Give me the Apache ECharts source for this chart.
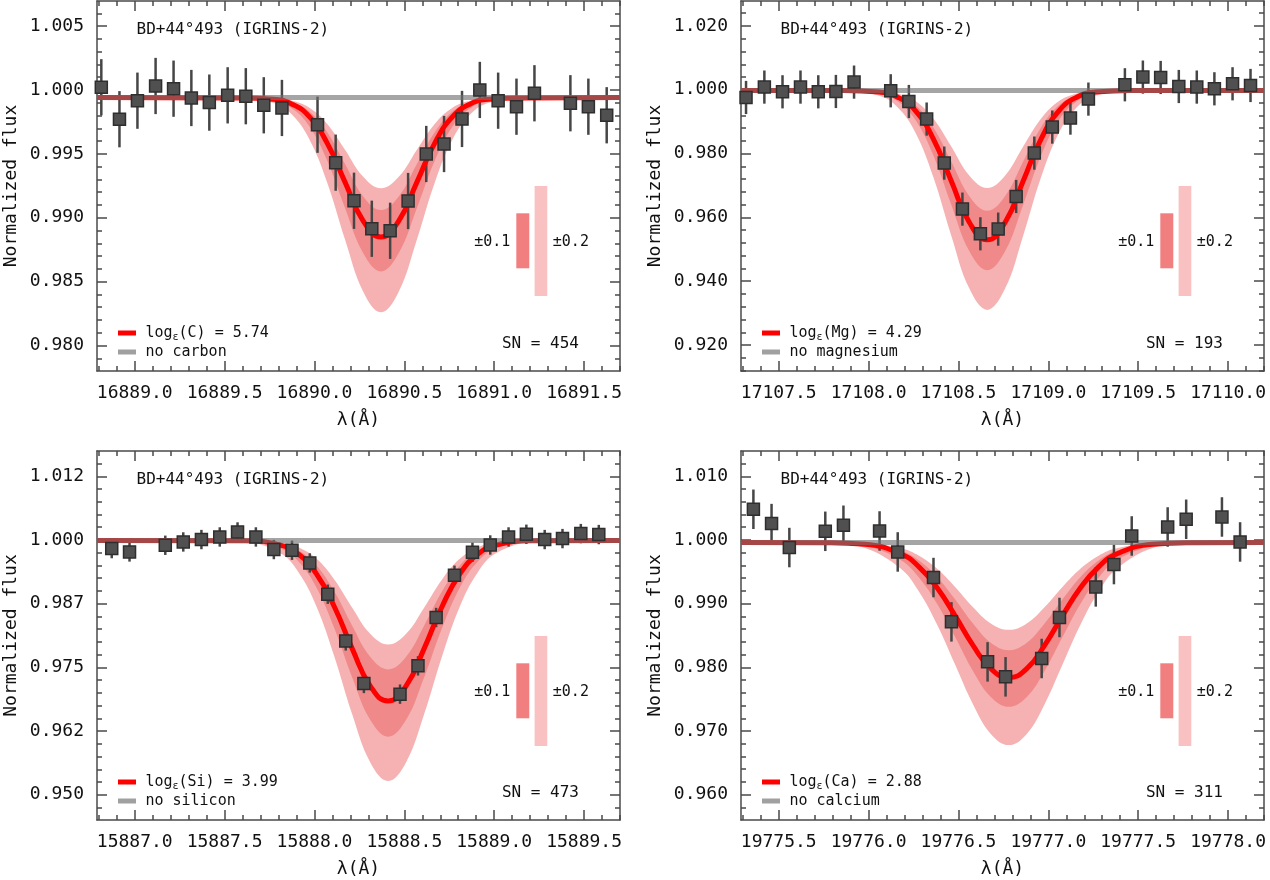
<!DOCTYPE html>
<html>
<head>
<meta charset="utf-8">
<title>BD+44°493 (IGRINS-2) line fits</title>
<script src="https://cdn.jsdelivr.net/npm/echarts@6/dist/echarts.min.js"></script>
<style>
  html, body { margin: 0; padding: 0; background: #fff; }
  #chart { width: 1270px; height: 880px; }
</style>
</head>
<body>
<div id="chart"></div>
<script>
// ---- observed spectrum (wavelength in A, normalized flux, 1-sigma error) ----
const cWave = [16888.814, 16888.915, 16889.015, 16889.116, 16889.216, 16889.315, 16889.415, 16889.517, 16889.618, 16889.718, 16889.819, 16890.017, 16890.118, 16890.220, 16890.319, 16890.421, 16890.521, 16890.622, 16890.721, 16890.821, 16890.920, 16891.022, 16891.124, 16891.224, 16891.424, 16891.524, 16891.626];
const cFlux = [1.00021, 0.99771, 0.99916, 1.00031, 1.00010, 0.99937, 0.99901, 0.99958, 0.99951, 0.99880, 0.99859, 0.99728, 0.99431, 0.99133, 0.98914, 0.98898, 0.99131, 0.99499, 0.99577, 0.99773, 1.00000, 0.99916, 0.99869, 0.99974, 0.99896, 0.99869, 0.99802];
const cErr = 0.0022;

const mgWave = [17107.318, 17107.420, 17107.521, 17107.621, 17107.720, 17107.818, 17107.919, 17108.123, 17108.224, 17108.323, 17108.421, 17108.522, 17108.622, 17108.721, 17108.821, 17108.922, 17109.022, 17109.123, 17109.223, 17109.426, 17109.526, 17109.625, 17109.726, 17109.826, 17109.924, 17110.025, 17110.125];
const mgFlux = [0.99759, 1.00085, 0.99937, 1.00085, 0.99937, 0.99947, 1.00241, 0.99969, 0.99633, 0.99082, 0.97702, 0.96260, 0.95486, 0.95633, 0.96655, 0.98016, 0.98831, 0.99113, 0.99708, 1.00157, 1.00398, 1.00386, 1.00103, 1.00085, 1.00031, 1.00188, 1.00135];
const mgErr = 0.0052;

const siWave = [15886.872, 15886.971, 15887.170, 15887.270, 15887.371, 15887.473, 15887.572, 15887.674, 15887.774, 15887.875, 15887.974, 15888.074, 15888.174, 15888.275, 15888.476, 15888.576, 15888.677, 15888.779, 15888.879, 15888.978, 15889.080, 15889.179, 15889.281, 15889.380, 15889.482, 15889.582];
const siFlux = [0.99831, 0.99765, 0.99896, 0.99961, 1.00008, 1.00059, 1.00157, 1.00059, 0.99812, 0.99798, 0.99549, 0.98935, 0.98019, 0.97184, 0.96974, 0.97529, 0.98478, 0.99308, 0.99759, 0.99902, 1.00059, 1.00112, 1.00008, 1.00027, 1.00125, 1.00106];
const siErr = 0.0019;

const caWave = [19775.359, 19775.460, 19775.559, 19775.759, 19775.860, 19776.061, 19776.162, 19776.361, 19776.461, 19776.662, 19776.762, 19776.963, 19777.062, 19777.264, 19777.365, 19777.464, 19777.664, 19777.767, 19777.966, 19778.067];
const caFlux = [1.00482, 1.00257, 0.99881, 1.00136, 1.00231, 1.00141, 0.99812, 0.99410, 0.98714, 0.98086, 0.97851, 0.98139, 0.98783, 0.99263, 0.99614, 1.00063, 1.00204, 1.00325, 1.00361, 0.99969];
const caErr = 0.0031;

// ---- synthetic spectra (best fit, -0.2/-0.1/+0.1/+0.2 dex) ----
const cGrid = [16888.79, 16889.57, 16889.77, 16889.87, 16889.97, 16890.07, 16890.17, 16890.27, 16890.37, 16890.47, 16890.57, 16890.67, 16890.77, 16890.87, 16890.97, 16891.17, 16891.70];
const cMinus2 = [0.9994, 0.9994, 0.99935, 0.99918, 0.99863, 0.99736, 0.99532, 0.99322, 0.99230, 0.99322, 0.99532, 0.99736, 0.99863, 0.99918, 0.99935, 0.9994, 0.9994];
const cMinus1 = [0.9994, 0.9994, 0.99932, 0.99907, 0.99833, 0.99671, 0.99420, 0.99168, 0.99060, 0.99168, 0.99420, 0.99671, 0.99833, 0.99907, 0.99932, 0.9994, 0.9994];
const cModel = [0.9994, 0.99937, 0.99928, 0.99892, 0.99793, 0.99586, 0.99279, 0.98978, 0.98850, 0.98978, 0.99279, 0.99586, 0.99793, 0.99892, 0.99928, 0.99937, 0.9994];
const cPlus1 = [0.9994, 0.99939, 0.99917, 0.99860, 0.99718, 0.99450, 0.99076, 0.98726, 0.98580, 0.98726, 0.99076, 0.99450, 0.99718, 0.99860, 0.99917, 0.99939, 0.9994];
const cPlus2 = [0.9994, 0.99938, 0.99899, 0.99813, 0.99618, 0.99277, 0.98829, 0.98425, 0.98260, 0.98425, 0.98829, 0.99277, 0.99618, 0.99813, 0.99899, 0.99938, 0.9994];
const cCont = 0.9994;

const mgGrid = [17107.29, 17107.86, 17108.06, 17108.16, 17108.26, 17108.36, 17108.46, 17108.56, 17108.66, 17108.76, 17108.86, 17108.96, 17109.06, 17109.16, 17109.26, 17109.46, 17110.20];
const mgMinus2 = [0.9998, 0.9998, 0.99959, 0.99884, 0.99646, 0.99100, 0.98221, 0.97316, 0.96920, 0.97316, 0.98221, 0.99100, 0.99646, 0.99884, 0.99959, 0.9998, 0.9998];
const mgMinus1 = [0.9998, 0.99979, 0.99947, 0.99839, 0.99520, 0.98826, 0.97752, 0.96674, 0.96210, 0.96674, 0.97752, 0.98826, 0.99520, 0.99839, 0.99947, 0.99979, 0.9998];
const mgModel = [0.9998, 0.99979, 0.99928, 0.99775, 0.99347, 0.98460, 0.97142, 0.95850, 0.95300, 0.95850, 0.97142, 0.98460, 0.99347, 0.99775, 0.99928, 0.99979, 0.9998];
const mgPlus1 = [0.9998, 0.99976, 0.99885, 0.99648, 0.99061, 0.97947, 0.96396, 0.94945, 0.94340, 0.94945, 0.96396, 0.97947, 0.99061, 0.99648, 0.99885, 0.99976, 0.9998];
const mgPlus2 = [0.9998, 0.99971, 0.99813, 0.99460, 0.98662, 0.97264, 0.95429, 0.93776, 0.93100, 0.93776, 0.95429, 0.97264, 0.98662, 0.99460, 0.99813, 0.99971, 0.9998];
const mgCont = 0.9998;

const siGrid = [15886.79, 15887.61, 15887.81, 15887.91, 15888.01, 15888.11, 15888.21, 15888.31, 15888.41, 15888.51, 15888.61, 15888.71, 15888.81, 15888.91, 15889.01, 15889.21, 15889.70];
const siMinus2 = [0.9999, 0.99988, 0.99950, 0.99857, 0.99634, 0.99226, 0.98672, 0.98161, 0.97950, 0.98161, 0.98672, 0.99226, 0.99634, 0.99857, 0.99950, 0.99988, 0.9999];
const siMinus1 = [0.9999, 0.99987, 0.99929, 0.99799, 0.99506, 0.98991, 0.98316, 0.97708, 0.97460, 0.97708, 0.98316, 0.98991, 0.99506, 0.99799, 0.99929, 0.99987, 0.9999];
const siModel = [0.9999, 0.99984, 0.99900, 0.99723, 0.99341, 0.98695, 0.97868, 0.97136, 0.96840, 0.97136, 0.97868, 0.98695, 0.99341, 0.99723, 0.99900, 0.99984, 0.9999];
const siPlus1 = [0.9999, 0.99978, 0.99838, 0.99582, 0.99074, 0.98274, 0.97302, 0.96471, 0.96140, 0.96471, 0.97302, 0.98274, 0.99074, 0.99582, 0.99838, 0.99978, 0.9999];
const siPlus2 = [0.9999, 0.99964, 0.99737, 0.99372, 0.98705, 0.97719, 0.96580, 0.95639, 0.95270, 0.95639, 0.96580, 0.97719, 0.98705, 0.99372, 0.99737, 0.99964, 0.9999];
const siCont = 0.9999;

const caGrid = [19775.29, 19775.78, 19775.98, 19776.18, 19776.28, 19776.38, 19776.48, 19776.58, 19776.68, 19776.78, 19776.88, 19776.98, 19777.08, 19777.18, 19777.28, 19777.38, 19777.58, 19777.78, 19778.20];
const caMinus2 = [0.9996, 0.99959, 0.99949, 0.99870, 0.99754, 0.99552, 0.99267, 0.98948, 0.98690, 0.98590, 0.98690, 0.98948, 0.99267, 0.99552, 0.99754, 0.99870, 0.99949, 0.99959, 0.9996];
const caMinus1 = [0.9996, 0.99959, 0.99943, 0.99832, 0.99679, 0.99424, 0.99074, 0.98692, 0.98387, 0.98270, 0.98387, 0.98692, 0.99074, 0.99424, 0.99679, 0.99832, 0.99943, 0.99959, 0.9996];
const caModel = [0.9996, 0.99958, 0.99934, 0.99780, 0.99578, 0.99253, 0.98816, 0.98349, 0.97981, 0.97840, 0.97981, 0.98349, 0.98816, 0.99253, 0.99578, 0.99780, 0.99934, 0.99958, 0.9996];
const caPlus1 = [0.9996, 0.99955, 0.99911, 0.99683, 0.99412, 0.99003, 0.98483, 0.97947, 0.97535, 0.97380, 0.97535, 0.97947, 0.98483, 0.99003, 0.99412, 0.99683, 0.99911, 0.99955, 0.9996];
const caPlus2 = [0.9996, 0.99949, 0.99875, 0.99547, 0.99189, 0.98676, 0.98051, 0.97425, 0.96955, 0.96780, 0.96955, 0.97425, 0.98051, 0.98676, 0.99189, 0.99547, 0.99875, 0.99949, 0.9996];
const caCont = 0.9996;

// ---- axis ranges and tick labels ----
const cXRange = [16888.79, 16891.70];
const cYRange = [0.97801, 1.00696];
const cXTicks = [16889.0, 16889.5, 16890.0, 16890.5, 16891.0, 16891.5];
const cYTicks = [0.980, 0.985, 0.990, 0.995, 1.000, 1.005];

const mgXRange = [17107.29, 17110.20];
const mgYRange = [0.91186, 1.02783];
const mgXTicks = [17107.5, 17108.0, 17108.5, 17109.0, 17109.5, 17110.0];
const mgYTicks = [0.920, 0.940, 0.960, 0.980, 1.000, 1.020];

const siXRange = [15886.79, 15889.70];
const siYRange = [0.94504, 1.01746];
const siXTicks = [15887.0, 15887.5, 15888.0, 15888.5, 15889.0, 15889.5];
const siYTicks = [0.950, 0.9625, 0.975, 0.9875, 1.000, 1.0125];

const caXRange = [19775.29, 19778.20];
const caYRange = [0.95603, 1.01397];
const caXTicks = [19775.5, 19776.0, 19776.5, 19777.0, 19777.5, 19778.0];
const caYTicks = [0.960, 0.970, 0.980, 0.990, 1.000, 1.010];

// ---- labels ----
const elements = ["C", "Mg", "Si", "Ca"];
const abundances = ["5.74", "4.29", "3.99", "2.88"];
const noLabels = ["no carbon", "no magnesium", "no silicon", "no calcium"];
const snValues = [454, 193, 473, 311];
const starLabel = "BD+44°493 (IGRINS-2)";

const FONT = "DejaVu Sans Mono";
const AXIS_COLOR = "#4a4a4a";
const OUTER_BAND = "#f6b2b2";
const INNER_BAND = "#f08a8a";

const panels = [
  { wave: cWave, flux: cFlux, err: cErr, grid: cGrid, m2: cMinus2, m1: cMinus1, model: cModel, p1: cPlus1, p2: cPlus2, cont: cCont, xr: cXRange, yr: cYRange, xt: cXTicks, yt: cYTicks },
  { wave: mgWave, flux: mgFlux, err: mgErr, grid: mgGrid, m2: mgMinus2, m1: mgMinus1, model: mgModel, p1: mgPlus1, p2: mgPlus2, cont: mgCont, xr: mgXRange, yr: mgYRange, xt: mgXTicks, yt: mgYTicks },
  { wave: siWave, flux: siFlux, err: siErr, grid: siGrid, m2: siMinus2, m1: siMinus1, model: siModel, p1: siPlus1, p2: siPlus2, cont: siCont, xr: siXRange, yr: siYRange, xt: siXTicks, yt: siYTicks },
  { wave: caWave, flux: caFlux, err: caErr, grid: caGrid, m2: caMinus2, m1: caMinus1, model: caModel, p1: caPlus1, p2: caPlus2, cont: caCont, xr: caXRange, yr: caYRange, xt: caXTicks, yt: caYTicks },
];

const boxes = [
  { left: 97, top: 1, width: 523, height: 370 },
  { left: 741, top: 1, width: 523, height: 370 },
  { left: 97, top: 451, width: 523, height: 369 },
  { left: 741, top: 451, width: 523, height: 369 },
];

function minorValues(major, range) {
  const step = (major[1] - major[0]) / 5;
  const out = [];
  const k0 = Math.ceil((range[0] - major[0]) / step - 1e-9);
  for (let k = k0; major[0] + k * step <= range[1] + 1e-12; k++) {
    out.push(+(major[0] + k * step).toFixed(6));
  }
  return out;
}

function yLabel(v) {
  return (Math.floor(v * 1000 + 1e-6) / 1000).toFixed(3);
}

// four axes per direction: main (labels + major ticks), main minor, mirror major, mirror minor
function axesFor(dim, gi, range, major) {
  const isX = dim === "x";
  const sides = isX ? ["bottom", "top"] : ["left", "right"];
  const minor = minorValues(major, range);
  const list = [];
  sides.forEach(function (pos, si) {
    [major, minor].forEach(function (vals, ti) {
      const main = si === 0 && ti === 0;
      list.push({
        type: "value",
        gridIndex: gi,
        position: pos,
        min: range[0],
        max: range[1],
        name: main ? (isX ? "λ(Å)" : "Normalized flux") : "",
        nameLocation: "middle",
        nameGap: isX ? 40 : 77,
        nameTextStyle: { fontFamily: FONT, fontSize: 18, color: "#111" },
        axisLine: { show: ti === 0, onZero: false, lineStyle: { color: AXIS_COLOR, width: 1.5 } },
        axisTick: {
          show: true,
          inside: true,
          length: ti === 0 ? 10 : 5,
          customValues: vals,
          lineStyle: { color: AXIS_COLOR, width: 1.5 },
        },
        axisLabel: {
          show: main,
          customValues: major,
          margin: 13,
          fontFamily: FONT,
          fontSize: 18,
          color: "#111",
          formatter: isX ? function (v) { return v.toFixed(1); } : yLabel,
        },
        splitLine: { show: false },
      });
    });
  });
  return list;
}

function pair(xs, ys) {
  return xs.map(function (x, i) { return [x, ys[i]]; });
}

// shaded band between two synthetic curves, mapped through the axes
function bandSeries(p, ax, upper, lower, color) {
  return Object.assign({
    type: "custom",
    silent: true,
    z: 1,
    clip: true,
    data: [[p.grid[0], upper[0]]],
    renderItem: function (params, api) {
      const pts = [];
      for (let i = 0; i < p.grid.length; i++) pts.push(api.coord([p.grid[i], upper[i]]));
      for (let i = p.grid.length - 2; i >= 1; i--) pts.push(api.coord([p.grid[i], lower[i]]));
      return {
        type: "polygon",
        shape: { points: pts, smooth: 0.4 },
        style: { fill: color },
      };
    },
  }, ax);
}

function seriesFor(p, gi) {
  const ax = { xAxisIndex: gi * 4, yAxisIndex: gi * 4 };
  const base = Object.assign({ type: "line", symbol: "none", smooth: 0.5, silent: true }, ax);
  return [
    bandSeries(p, ax, p.m2, p.p2, OUTER_BAND),
    bandSeries(p, ax, p.m1, p.p1, INNER_BAND),
    Object.assign({}, base, { data: pair(p.grid, p.model), lineStyle: { color: "#ff0000", width: 5 } }),
    Object.assign({}, base, { smooth: false, data: [[p.xr[0], p.cont], [p.xr[1], p.cont]], lineStyle: { color: "rgba(113,113,113,0.63)", width: 5 } }),
    Object.assign({
      type: "custom",
      silent: true,
      z: 3,
      data: p.wave.map(function (x, i) { return [x, p.flux[i] - p.err, p.flux[i] + p.err]; }),
      encode: { x: 0, y: [1, 2] },
      renderItem: function (params, api) {
        const a = api.coord([api.value(0), api.value(1)]);
        const b = api.coord([api.value(0), api.value(2)]);
        return {
          type: "line",
          shape: { x1: a[0], y1: a[1], x2: b[0], y2: b[1] },
          style: { stroke: "#464646", lineWidth: 2.5 },
        };
      },
    }, ax),
    Object.assign({
      type: "scatter",
      silent: true,
      z: 4,
      symbol: "rect",
      symbolSize: 12,
      data: pair(p.wave, p.flux),
      itemStyle: { color: "#505050", borderColor: "#2e2e2e", borderWidth: 1.5, opacity: 1 },
    }, ax),
  ];
}

function textEl(x, y, text, size, align) {
  return {
    type: "text",
    z: 50,
    silent: true,
    style: {
      x: x, y: y, text: text,
      fontFamily: FONT, fontSize: size, fill: "#111",
      align: align, textAlign: align, verticalAlign: "middle", textVerticalAlign: "middle",
    },
  };
}
function rectEl(x, y, w, h, color) {
  return { type: "rect", z: 50, silent: true, shape: { x: x, y: y, width: w, height: h }, style: { fill: color } };
}

function decor(gi) {
  const g = boxes[gi];
  const r = g.left + g.width;
  const b = g.top + g.height;
  const legendText = textEl(g.left + 48.4, b - 38, "log{s|ε}(" + elements[gi] + ") = " + abundances[gi], 15, "left");
  legendText.style.rich = { s: { fontFamily: FONT, fontSize: 10, fill: "#111", padding: [9, 0, 0, 0] } };
  return [
    textEl(g.left + 39.5, g.top + 29, starLabel, 16, "left"),
    rectEl(g.left + 21, b - 40.5, 18, 5, "#ff0000"),
    rectEl(g.left + 21, b - 21.5, 18, 5, "#a0a0a0"),
    legendText,
    textEl(g.left + 48.4, b - 19, noLabels[gi], 15, "left"),
    textEl(r - 41, b - 27.4, "SN = " + snValues[gi], 16, "right"),
    rectEl(g.left + 419.3, g.top + 212.3, 13, 55, "#f17f7f"),
    rectEl(g.left + 437.6, g.top + 185, 12.7, 110, "#f9c1c1"),
    textEl(g.left + 413.3, g.top + 240.7, "±0.1", 15, "right"),
    textEl(g.left + 455.8, g.top + 240.7, "±0.2", 15, "left"),
  ];
}

document.addEventListener("DOMContentLoaded", function () {
  const chart = echarts.init(document.getElementById("chart"));
  let xAxes = [], yAxes = [], series = [], graphics = [];
  panels.forEach(function (p, gi) {
    xAxes = xAxes.concat(axesFor("x", gi, p.xr, p.xt));
    yAxes = yAxes.concat(axesFor("y", gi, p.yr, p.yt));
    series = series.concat(seriesFor(p, gi));
    graphics = graphics.concat(decor(gi));
  });
  chart.setOption({
    animation: false,
    backgroundColor: "#fff",
    grid: boxes.map(function (b) {
      return Object.assign({ containLabel: false, outerBoundsMode: "none" }, b);
    }),
    xAxis: xAxes,
    yAxis: yAxes,
    series: series,
    graphic: { elements: graphics },
  });
  window.addEventListener("resize", function () {
    chart.resize();
  });
});
</script>
</body>
</html>
